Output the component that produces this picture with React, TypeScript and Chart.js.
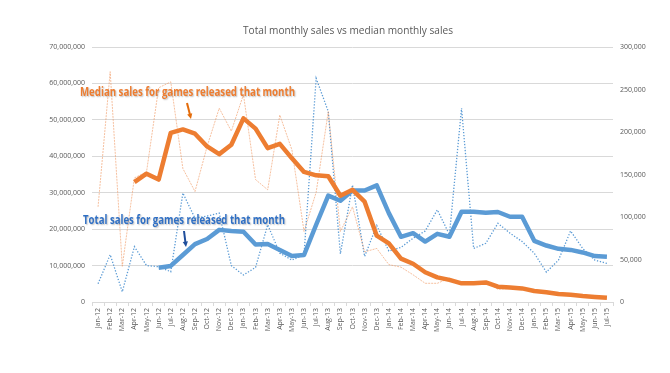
import React, { useEffect, useRef } from "react";
import { Chart, registerables } from "chart.js";

Chart.register(...registerables);

const months = [
  "Jan-12", "Feb-12", "Mar-12", "Apr-12", "May-12", "Jun-12", "Jul-12", "Aug-12", "Sep-12", "Oct-12", "Nov-12", "Dec-12",
  "Jan-13", "Feb-13", "Mar-13", "Apr-13", "May-13", "Jun-13", "Jul-13", "Aug-13", "Sep-13", "Oct-13", "Nov-13", "Dec-13",
  "Jan-14", "Feb-14", "Mar-14", "Apr-14", "May-14", "Jun-14", "Jul-14", "Aug-14", "Sep-14", "Oct-14", "Nov-14", "Dec-14",
  "Jan-15", "Feb-15", "Mar-15", "Apr-15", "May-15", "Jun-15", "Jul-15",
];

// Total sales for games released that month (left axis)
const totalSalesMonthly = [
  5000000, 13000000, 2800000, 15200000, 10000000, 9700000, 8300000, 29900000, 23000000, 23600000, 24400000, 10000000,
  7400000, 9500000, 21200000, 13400000, 11500000, 13000000, 61400000, 52300000, 13200000, 32100000, 12500000, 21000000,
  14000000, 15000000, 17500000, 19500000, 25300000, 18500000, 53200000, 14700000, 16100000, 21600000, 18900000, 16600000,
  13400000, 8200000, 11500000, 19500000, 14700000, 11500000, 10600000,
];

const totalSalesTrend = [
  null, null, null, null, null, 9400000, 9900000, 12900000, 15900000, 17300000, 19800000, 19500000,
  19300000, 15800000, 15900000, 14300000, 12600000, 12900000, 21200000, 29200000, 27800000, 30600000, 30600000, 32000000,
  24400000, 17900000, 18900000, 16600000, 18700000, 17900000, 24800000, 24800000, 24500000, 24700000, 23400000, 23400000,
  16800000, 15500000, 14600000, 14300000, 13600000, 12600000, 12400000,
];

// Median sales for games released that month (right axis)
const medianSalesMonthly = [
  112000, 271000, 42000, 146000, 153000, 252000, 259000, 157000, 130000, 183000, 228000, 201000,
  244000, 144000, 132000, 220000, 179000, 83000, 129000, 224000, 83000, 112000, 59000, 63000,
  44000, 41000, 32000, 22000, 22000, 28000, 21000, 21000, 23000, 15000, 16000, 15500,
  12500, 11000, 8500, 7500, 6500, 5500, 4500,
];

const medianSalesTrend = [
  null, null, null, 141000, 151000, 144000, 199000, 203000, 198000, 183000, 174000, 185000,
  216000, 204000, 181000, 186000, 169000, 153000, 149000, 148000, 125000, 132000, 118000, 78000,
  69000, 51000, 45000, 35000, 29000, 26000, 22000, 22000, 23000, 18000, 17000, 16000,
  13000, 11500, 9500, 8500, 7000, 6000, 5000,
];

const leftMax = 70000000;
const leftStep = 10000000;
const rightMax = 300000;
const rightStep = 50000;

const titleText = "Total monthly sales vs median monthly sales";
const medianNote = "Median sales for games released that month";
const totalNote = "Total sales for games released that month";

const FONT = "'Open Sans', 'Liberation Sans', sans-serif";
const fmt = (v: number) => Number(v).toLocaleString("en-US");

function fitText(ctx: CanvasRenderingContext2D, text: string, x: number, y: number, width: number) {
  const w = ctx.measureText(text).width;
  ctx.save();
  ctx.translate(x, y);
  ctx.scale(width / w, 1);
  ctx.fillText(text, 0, 0);
  ctx.restore();
}

function arrow(ctx: CanvasRenderingContext2D, x1: number, y1: number, x2: number, y2: number, color: string) {
  const ang = Math.atan2(y2 - y1, x2 - x1);
  const head = 6;
  ctx.save();
  ctx.strokeStyle = color;
  ctx.fillStyle = color;
  ctx.lineWidth = 2;
  ctx.beginPath();
  ctx.moveTo(x1, y1);
  ctx.lineTo(x2 - Math.cos(ang) * head * 0.8, y2 - Math.sin(ang) * head * 0.8);
  ctx.stroke();
  ctx.beginPath();
  ctx.moveTo(x2, y2);
  ctx.lineTo(x2 - head * Math.cos(ang - 0.45), y2 - head * Math.sin(ang - 0.45));
  ctx.lineTo(x2 - head * Math.cos(ang + 0.45), y2 - head * Math.sin(ang + 0.45));
  ctx.closePath();
  ctx.fill();
  ctx.restore();
}

const annotationPlugin = {
  id: "notes",
  afterDraw(chart: any) {
    const ctx: CanvasRenderingContext2D = chart.ctx;
    ctx.save();
    // title
    ctx.fillStyle = "#595959";
    ctx.font = `11px ${FONT}`;
    ctx.textBaseline = "middle";
    ctx.textAlign = "left";
    fitText(ctx, titleText, 243, 31, 210);

    // notes
    ctx.font = `bold 11.5px ${FONT}`;
    ctx.shadowColor = "rgba(0,0,0,0.25)";
    ctx.shadowOffsetX = 1;
    ctx.shadowOffsetY = 1;
    ctx.shadowBlur = 1.5;
    ctx.fillStyle = "#ed7d31";
    fitText(ctx, medianNote, 80, 92.5, 215);
    ctx.fillStyle = "#2f6fc4";
    fitText(ctx, totalNote, 83, 220.5, 202);
    ctx.restore();

    arrow(ctx, 187, 103, 191, 119, "#e46c0a");
    arrow(ctx, 184, 231, 186, 247, "#1f4e9c");
  },
};

export default function App() {
  const ref = useRef<HTMLCanvasElement | null>(null);

  useEffect(() => {
    if (!ref.current) return;
    const chart = new Chart(ref.current, {
      type: "line",
      data: {
        labels: months,
        datasets: [
          {
            label: "Median sales (trend)",
            data: medianSalesTrend,
            yAxisID: "y1",
            borderColor: "#ed7d31",
            borderWidth: 4.5,
            pointRadius: 0,
            order: 0,
            borderJoinStyle: "round",
          },
          {
            label: "Total sales (trend)",
            data: totalSalesTrend,
            yAxisID: "y",
            borderColor: "#5b9bd5",
            borderWidth: 4.5,
            pointRadius: 0,
            order: 1,
            borderJoinStyle: "round",
          },
          {
            label: "Median sales",
            data: medianSalesMonthly,
            yAxisID: "y1",
            borderColor: "rgba(240,150,95,0.6)",
            borderWidth: 1,
            borderDash: [2, 1],
            pointRadius: 0,
            order: 2,
          },
          {
            label: "Total sales",
            data: totalSalesMonthly,
            yAxisID: "y",
            borderColor: "#5b9bd5",
            borderWidth: 1.3,
            borderDash: [1.3, 1.7],
            pointRadius: 0,
            order: 3,
          },
        ],
      },
      options: {
        animation: false,
        responsive: true,
        maintainAspectRatio: false,
        layout: { padding: { top: 47, left: 0, right: 0, bottom: 0 } },
        plugins: {
          legend: { display: false },
          title: { display: false },
          tooltip: { enabled: false },
        },
        scales: {
          x: {
            offset: true,
            grid: {
              display: true,
              offset: true,
              drawOnChartArea: false,
              drawTicks: true,
              tickLength: 4,
              color: "#d9d9d9",
            },
            border: { display: true, color: "#d9d9d9" },
            ticks: {
              autoSkip: false,
              minRotation: 90,
              maxRotation: 90,
              color: "#595959",
              font: { family: FONT, size: 7 },
              padding: 2,
            },
            afterFit: (s: any) => {
              s.height = 71;
            },
          },
          y: {
            position: "left",
            min: 0,
            max: leftMax,
            ticks: {
              stepSize: leftStep,
              color: "#595959",
              font: { family: FONT, size: 7 },
              padding: 7,
              callback: (v: any) => fmt(v),
            },
            grid: { color: "#d9d9d9", drawTicks: false },
            border: { display: false },
            afterFit: (s: any) => {
              s.width = 92;
            },
          },
          y1: {
            position: "right",
            min: 0,
            max: rightMax,
            ticks: {
              stepSize: rightStep,
              color: "#595959",
              font: { family: FONT, size: 7 },
              padding: 7,
              callback: (v: any) => fmt(v),
            },
            grid: { drawOnChartArea: false, drawTicks: false },
            border: { display: false },
            afterFit: (s: any) => {
              s.width = 57;
            },
          },
        },
      },
      plugins: [annotationPlugin],
    } as any);
    return () => chart.destroy();
  }, []);

  return (
    <div style={{ position: "fixed", left: 0, top: 0, width: 670, height: 373, background: "#fff" }}>
      <canvas ref={ref} />
    </div>
  );
}
